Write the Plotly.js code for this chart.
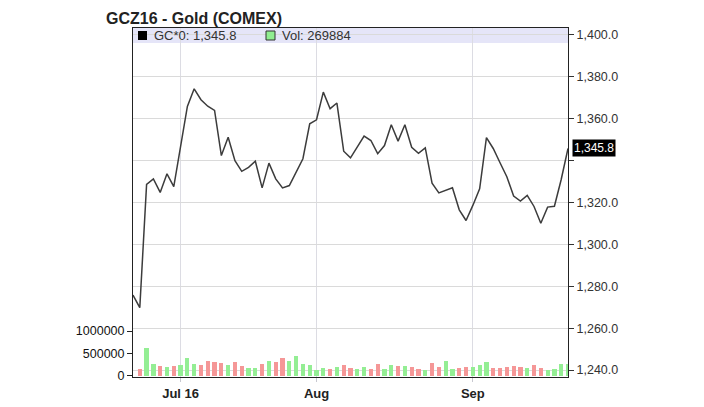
<!DOCTYPE html>
<html>
<head>
<meta charset="utf-8">
<script src="https://cdn.plot.ly/plotly-3.0.1.min.js"></script>
<style>html,body{margin:0;padding:0;background:#fff;}#chart{width:704px;height:407px;}</style>
</head>
<body>
<div id="chart"></div>
<script>
const symbolTitle = 'GCZ16 - Gold (COMEX)';
const seriesName = 'GC*0';
const dates = [
'2016-06-22','2016-06-23','2016-06-24','2016-06-27','2016-06-28','2016-06-29','2016-06-30',
'2016-07-01','2016-07-05','2016-07-06','2016-07-07','2016-07-08','2016-07-11','2016-07-12','2016-07-13','2016-07-14','2016-07-15',
'2016-07-18','2016-07-19','2016-07-20','2016-07-21','2016-07-22','2016-07-25','2016-07-26','2016-07-27','2016-07-28','2016-07-29',
'2016-08-01','2016-08-02','2016-08-03','2016-08-04','2016-08-05','2016-08-08','2016-08-09','2016-08-10','2016-08-11','2016-08-12',
'2016-08-15','2016-08-16','2016-08-17','2016-08-18','2016-08-19','2016-08-22','2016-08-23','2016-08-24','2016-08-25','2016-08-26',
'2016-08-29','2016-08-30','2016-08-31',
'2016-09-01','2016-09-02','2016-09-06','2016-09-07','2016-09-08','2016-09-09','2016-09-12','2016-09-13','2016-09-14','2016-09-15',
'2016-09-16','2016-09-19','2016-09-20','2016-09-21','2016-09-22'
];
const closePrice = [
1275.8,1269.8,1328.6,1331.3,1324.8,1333.7,1327.6,
1346.5,1365.9,1374.3,1369.1,1366.0,1364.0,1342.4,1351.2,1340.0,1334.9,
1336.8,1339.7,1327.0,1338.8,1331.3,1327.0,1328.1,1334.5,1340.9,1357.6,
1359.5,1372.7,1364.8,1367.5,1344.5,1341.3,1346.4,1351.7,1349.6,1343.3,
1347.2,1357.1,1349.3,1357.1,1346.4,1343.5,1346.1,1329.2,1324.6,1325.7,
1327.0,1316.5,1311.4,
1318.6,1326.5,1351.0,1345.8,1339.0,1332.3,1323.1,1320.7,1323.4,1318.1,
1310.1,1317.8,1318.2,1331.0,1345.8
];
const volume = [
null,160000,620000,265000,210000,185000,215000,
250000,400000,265000,245000,340000,300000,295000,245000,300000,220000,
180000,180000,265000,325000,300000,405000,335000,435000,265000,240000,
125000,175000,150000,185000,245000,175000,150000,190000,150000,270000,
140000,240000,210000,210000,190000,160000,135000,280000,190000,340000,
160000,170000,185000,
200000,240000,300000,170000,180000,190000,220000,200000,180000,240000,
170000,130000,150000,270000,269884
];
const tickDates = ['2016-07-01','2016-08-01','2016-09-01'];
const tickLabels = ['Jul 16','Aug','Sep'];
const priceTicks = [1240,1260,1280,1300,1320,1340,1360,1380,1400];
const volTicks = [0,500000,1000000];

const idx = dates.map((d,i)=>i);
const upColor = '#94ee94', downColor = '#f59797';
const barColors = closePrice.map((c,i)=> i===0 ? upColor : (c >= closePrice[i-1] ? upColor : downColor));
const last = closePrice[closePrice.length-1];
const lastVol = volume[volume.length-1];
const fmt1 = v => v.toLocaleString('en-US',{minimumFractionDigits:1,maximumFractionDigits:1});
const priceTickText = priceTicks.map(v => Math.abs(v-last) < 10 ? '' : fmt1(v));

const font = 'Liberation Sans, Arial, sans-serif';
const W = 435, H = 349; // plot area in px (for paper fractions of legend decorations)

const traces = [
  {type:'bar', x: idx, y: volume, yaxis:'y2', marker:{color: barColors, line:{width:0}}, width:0.62, hoverinfo:'skip'},
  {type:'scatter', mode:'lines', x: idx, y: closePrice, yaxis:'y', line:{color:'#3c3c3c', width:1.5}, hoverinfo:'skip'}
];

const layout = {
  width:704, height:407,
  margin:{l:133, r:136, t:28, b:30, pad:0},
  paper_bgcolor:'#fff', plot_bgcolor:'#fff',
  showlegend:false,
  font:{family:font, color:'#333'},
  title:{text: symbolTitle, font:{family:font, size:16, weight:700, color:'#222'},
         x:106/704, xref:'container', xanchor:'left', y:1-18/407, yref:'container', yanchor:'middle'},
  bargap:0,
  xaxis:{
    range:[0, dates.length-1], tickmode:'array',
    tickvals: tickDates.map(d => dates.indexOf(d)), ticktext: tickLabels,
    tickfont:{family:font, size:13, weight:700, color:'#222'},
    showgrid:true, gridcolor:'#dcdce3', gridwidth:1,
    showline:true, linecolor:'#222', linewidth:1, mirror:true,
    ticks:'outside', ticklen:4, tickcolor:'#c8c8d0', zeroline:false, fixedrange:true
  },
  yaxis:{
    side:'right', range:[1236.66, 1403.34], tickmode:'array',
    tickvals: priceTicks, ticktext: priceTickText,
    tickfont:{family:font, size:12.5, color:'#333'},
    showgrid:true, gridcolor:'#dadada', gridwidth:1,
    showline:true, linecolor:'#222', linewidth:1, mirror:true,
    ticks:'outside', ticklen:5, tickcolor:'#333', zeroline:false, fixedrange:true
  },
  yaxis2:{
    overlaying:'y', side:'left', range:[-29000, 7780000], tickmode:'array',
    tickvals: volTicks, ticktext: volTicks.map(v=>String(v)),
    tickfont:{family:font, size:12.5, color:'#111'},
    showgrid:false, showline:false, zeroline:false,
    ticks:'outside', ticklen:5, tickcolor:'#222', fixedrange:true
  },
  shapes:[
    {type:'rect', xref:'paper', yref:'paper', x0:0, x1:1, y0:(H-15)/H, y1:1,
     fillcolor:'#e5e5f8', line:{width:0}, layer:'between'},
    {type:'rect', xref:'paper', yref:'paper', x0:5/W, x1:14/W, y0:(H-12)/H, y1:(H-3)/H,
     fillcolor:'#000', line:{width:0}, layer:'above'},
    {type:'rect', xref:'paper', yref:'paper', x0:133/W, x1:142/W, y0:(H-12)/H, y1:(H-3)/H,
     fillcolor:'#90ee90', line:{width:1, color:'#333'}, layer:'above'}
  ],
  annotations:[
    {xref:'paper', yref:'paper', x:19/W, y:(H-7.5)/H, xanchor:'left', yanchor:'middle', showarrow:false,
     text: seriesName + ': ' + fmt1(last), font:{family:font, size:13, color:'#333'}},
    {xref:'paper', yref:'paper', x:147/W, y:(H-7.5)/H, xanchor:'left', yanchor:'middle', showarrow:false,
     text: 'Vol: ' + lastVol, font:{family:font, size:13, color:'#333'}},
    {xref:'paper', yref:'y', x:1, xshift:4, y:last, xanchor:'left', yanchor:'middle', showarrow:false,
     text: fmt1(last), bgcolor:'#000', borderpad:1, font:{family:'Liberation Sans Narrow, Liberation Sans, Arial, sans-serif', size:12, color:'#fff'}}
  ]
};

Plotly.newPlot('chart', traces, layout, {displayModeBar:false, staticPlot:true});
</script>
</body>
</html>
